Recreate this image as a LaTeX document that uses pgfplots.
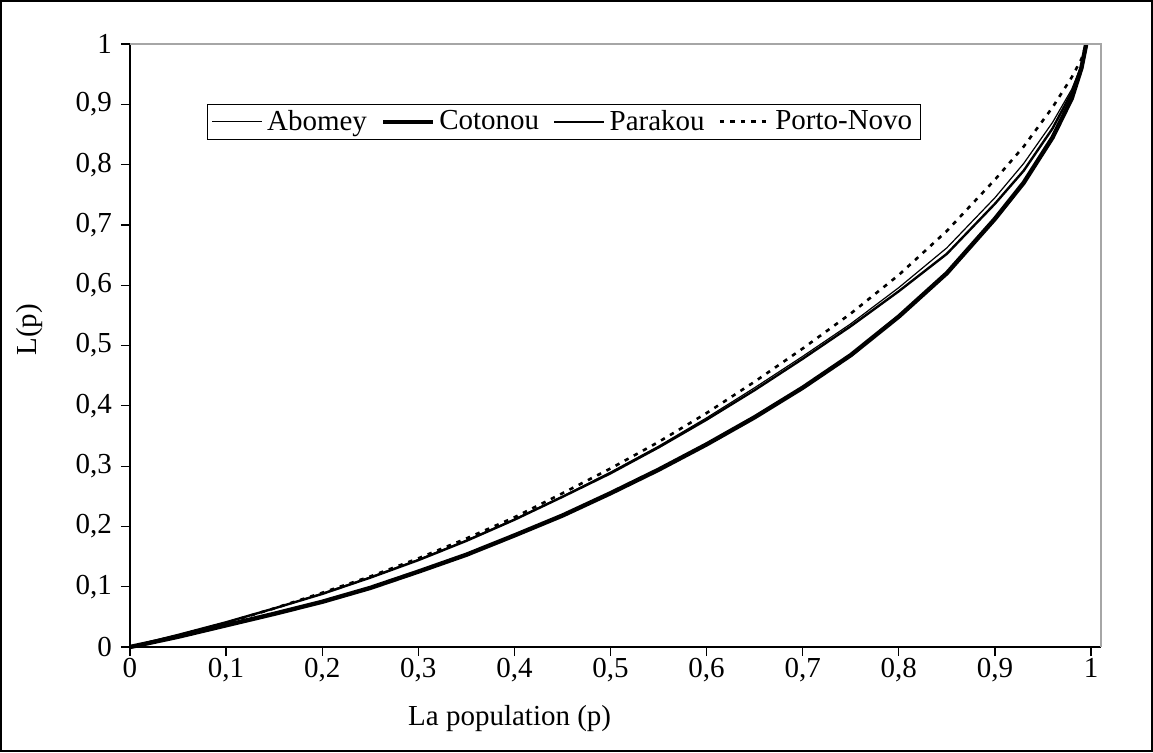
\documentclass[border=0pt]{standalone}
\usepackage{fontspec}
\setmainfont{Liberation Serif}
\usepackage{pgfplots}
\pgfplotsset{compat=1.18}
\newcommand{\fsz}{\fontsize{14.5pt}{16.5pt}\selectfont}
\begin{document}
\begin{tikzpicture}[font=\fsz]
\useasboundingbox (0,0) rectangle (576.5pt,376pt);
\draw[line width=0.8pt] (0.4pt,0.4pt) rectangle (576.1pt,375.6pt);
\begin{axis}[
  at={(65pt,52.5pt)}, anchor=south west,
  scale only axis, width=485.5pt, height=301.5pt,
  xmin=0, xmax=1.0104, ymin=0, ymax=1,
  axis x line*=bottom, axis y line*=left,
  axis line style={-, line width=0.6pt, black},
  xtick={0,0.1,0.2,0.3,0.4,0.5,0.6,0.7,0.8,0.9,1},
  ytick={0,0.1,0.2,0.3,0.4,0.5,0.6,0.7,0.8,0.9,1},
  tick align=outside, major tick length=4.5pt,
  tick style={line width=0.6pt, black},
  /pgf/number format/use comma,
  /pgf/number format/assume math mode=true,
  tick label style={font=\fsz},
  xticklabel style={yshift=2.5pt},
  yticklabel style={xshift=-1pt},
  label style={font=\fsz},
  xlabel={La population (p)},
  ylabel={L(p)},
  xlabel style={at={(axis description cs:0.391,-0.118)}, anchor=center},
  ylabel style={at={(axis description cs:-0.103,0.526)}, anchor=center},
  legend columns=4,
  legend style={at={(rel axis cs:0.447,0.871)}, anchor=center, draw=black, line width=0.5pt,
    font=\fsz, inner xsep=2pt, inner ysep=1pt,
    /tikz/every even column/.append style={column sep=5pt}},
  legend image code/.code={\draw[#1] (0pt,0pt) -- (25pt,0pt);},
  clip=false,
]
\addplot[black, line width=0.6pt] coordinates {
(0,0) (0.05,0.02) (0.1,0.041) (0.15,0.064) (0.2,0.089) (0.25,0.116) (0.3,0.145)
(0.35,0.177) (0.4,0.212) (0.45,0.25) (0.5,0.29) (0.55,0.333) (0.6,0.38) (0.65,0.43)
(0.7,0.482) (0.75,0.536) (0.8,0.596) (0.85,0.662) (0.9,0.745) (0.93,0.802) (0.96,0.87)
(0.98,0.925) (0.99,0.965) (0.995,1.0)};
\addlegendentry{Abomey}
\addplot[black, line width=2.2pt] coordinates {
(0,0) (0.05,0.017) (0.1,0.036) (0.15,0.055) (0.2,0.075) (0.25,0.098) (0.3,0.125)
(0.35,0.153) (0.4,0.185) (0.45,0.218) (0.5,0.255) (0.55,0.294) (0.6,0.336) (0.65,0.381)
(0.7,0.43) (0.75,0.484) (0.8,0.548) (0.85,0.62) (0.9,0.71) (0.93,0.77) (0.96,0.845)
(0.98,0.91) (0.99,0.96) (0.995,1.0)};
\addlegendentry{Cotonou}
\addplot[black, line width=1.2pt] coordinates {
(0,0) (0.05,0.02) (0.1,0.041) (0.15,0.064) (0.2,0.088) (0.25,0.115) (0.3,0.144)
(0.35,0.176) (0.4,0.211) (0.45,0.249) (0.5,0.288) (0.55,0.331) (0.6,0.377) (0.65,0.426)
(0.7,0.478) (0.75,0.532) (0.8,0.59) (0.85,0.652) (0.9,0.735) (0.93,0.79) (0.96,0.86)
(0.98,0.92) (0.99,0.962) (0.995,1.0)};
\addlegendentry{Parakou}
\addplot[black, line width=1.3pt, dash pattern=on 2.2pt off 3pt] coordinates {
(0,0) (0.05,0.019) (0.1,0.04) (0.15,0.064) (0.2,0.09) (0.25,0.117) (0.3,0.147)
(0.35,0.18) (0.4,0.215) (0.45,0.255) (0.5,0.296) (0.55,0.34) (0.6,0.388) (0.65,0.44)
(0.7,0.495) (0.75,0.553) (0.8,0.617) (0.85,0.69) (0.9,0.775) (0.93,0.83) (0.96,0.895)
(0.98,0.945) (0.99,0.975) (0.995,1.0)};
\addlegendentry{Porto-Novo}
\draw[gray!70, line width=0.6pt] (rel axis cs:0,1) -- (rel axis cs:1,1) -- (rel axis cs:1,0);
\end{axis}
\end{tikzpicture}
\end{document}
